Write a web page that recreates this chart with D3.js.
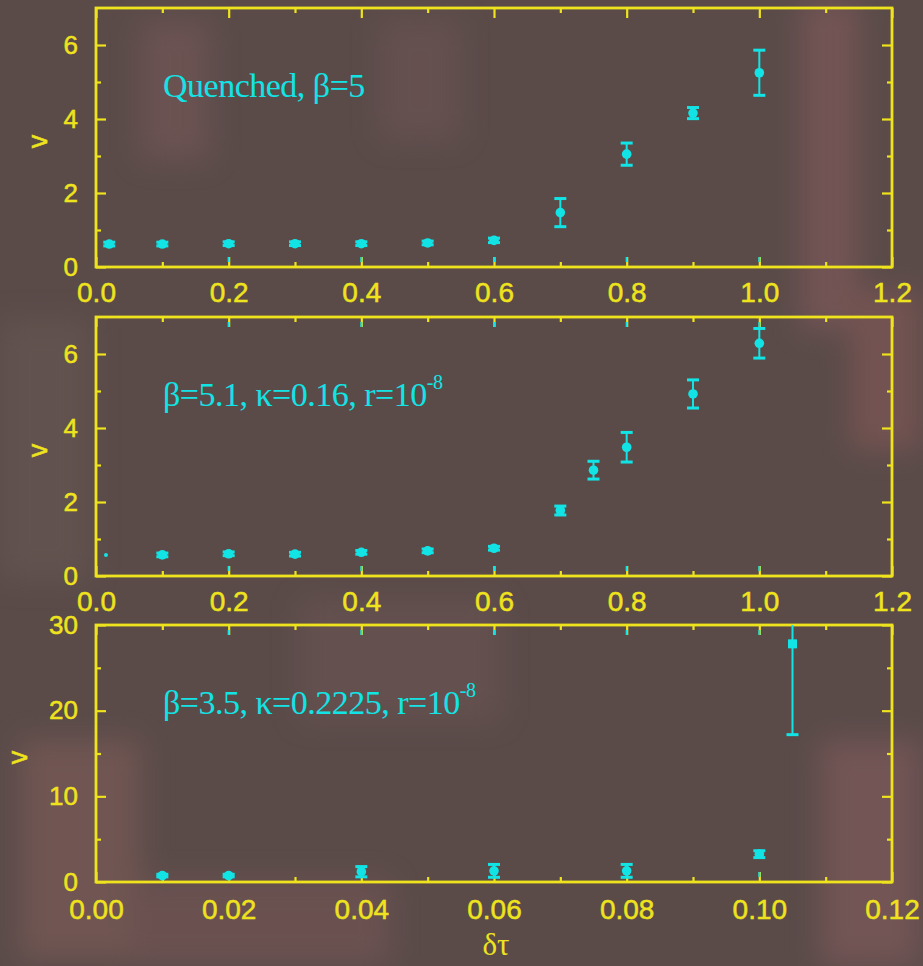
<!DOCTYPE html>
<html lang="en">
<head>
<meta charset="UTF-8">
<title>v vs dtau</title>
<script src="https://d3js.org/d3.v7.min.js"></script>
<style>
    body { margin: 0; background: #5a4b49; }
    svg { display: block; }
</style>
</head>
<body>
<script>

// --- data ---
// panel 1: quenched, beta = 5
const dt1  = [0.02, 0.1, 0.2, 0.3, 0.4, 0.5, 0.6, 0.7, 0.8, 0.9, 1.0];
const v1   = [0.62, 0.62, 0.63, 0.63, 0.63, 0.65, 0.72, 1.47, 3.05, 4.16, 5.25];
const err1 = [0.05, 0.05, 0.05, 0.05, 0.05, 0.05, 0.06, 0.38, 0.30, 0.15, 0.61];

// panel 2: beta = 5.1, kappa = 0.16
const dt2  = [0.015, 0.1, 0.2, 0.3, 0.4, 0.5, 0.6, 0.7, 0.75, 0.8, 0.9, 1.0];
const v2   = [0.57, 0.57, 0.60, 0.59, 0.64, 0.68, 0.75, 1.77, 2.86, 3.48, 4.92, 6.29];
const err2 = [0, 0.05, 0.05, 0.05, 0.05, 0.05, 0.05, 0.12, 0.24, 0.40, 0.38, 0.40];

// panel 3: beta = 3.5, kappa = 0.2225
const dt3  = [0.01, 0.02, 0.04, 0.06, 0.08, 0.10, 0.105];
const v3   = [0.75, 0.75, 1.2, 1.3, 1.3, 3.25, 27.8];
const err3 = [0.15, 0.15, 0.6, 0.75, 0.75, 0.4, 10.6];
const mark3 = ['c', 'c', 'c', 'c', 'c', 'c', 's'];

// axis ticks
const xMajorA = [0, 0.2, 0.4, 0.6, 0.8, 1.0, 1.2];
const xMinorA = [0.1, 0.3, 0.5, 0.7, 0.9, 1.1];
const yMajorA = [0, 2, 4, 6];
const yMinorA = [1, 3, 5];
const xMajorB = [0, 0.02, 0.04, 0.06, 0.08, 0.10, 0.12];
const xMinorB = [0.01, 0.03, 0.05, 0.07, 0.09, 0.11];
const yMajorB = [0, 10, 20, 30];
const yMinorB = [5, 15, 25];

const W = 923, H = 966;
const yellow = '#eee31c';
const cyan = '#12e4e6';
const left = 96, right = 892;

const svg = d3.select('body').append('svg')
    .attr('width', W)
    .attr('height', H);

// background, roughly the blotchy brown of the scan
svg.append('rect').attr('width', W).attr('height', H).attr('fill', '#5a4b49');
const defs = svg.append('defs');
defs.append('filter').attr('id', 'blur')
    .append('feGaussianBlur').attr('stdDeviation', 14);
const blotches = svg.append('g').attr('filter', 'url(#blur)').style('opacity', 0.5);
[[800, 0, 60, 330, '#8a5d5f'], [850, 290, 70, 160, '#8c5c5a'], [20, 740, 120, 220, '#86605c'],
 [820, 740, 100, 226, '#8a5e60'], [0, 320, 90, 260, '#6b5a55'], [300, 600, 200, 120, '#6e5654'],
 [140, 20, 70, 140, '#7a5a5a'], [380, 20, 80, 120, '#6f5655'], [130, 880, 260, 86, '#7a5858']]
    .forEach(b => blotches.append('rect')
        .attr('x', b[0]).attr('y', b[1]).attr('width', b[2]).attr('height', b[3]).attr('fill', b[4]));

const panels = [
    { top: 8, bottom: 267, xd: [0, 1.2], yd: [0, 7], xs: dt1, ys: v1, es: err1, marks: null,
      xMaj: xMajorA, xMin: xMinorA, yMaj: yMajorA, yMin: yMinorA, xf: d3.format('.1f'),
      topCyan: false, ylabX: 39, pad: 15,
      label: [['Quenched, β=5', null]] },
    { top: 317, bottom: 576, xd: [0, 1.2], yd: [0, 7], xs: dt2, ys: v2, es: err2, marks: null,
      xMaj: xMajorA, xMin: xMinorA, yMaj: yMajorA, yMin: yMinorA, xf: d3.format('.1f'),
      topCyan: true, ylabX: 39, pad: 15,
      label: [['β=5.1, κ=0.16, r=10', '-8']] },
    { top: 625, bottom: 882, xd: [0, 0.12], yd: [0, 30], xs: dt3, ys: v3, es: err3, marks: mark3,
      xMaj: xMajorB, xMin: xMinorB, yMaj: yMajorB, yMin: yMinorB, xf: d3.format('.2f'),
      topCyan: true, ylabX: 19, pad: 17,
      label: [['β=3.5, κ=0.2225, r=10', '-8']] }
];

panels.forEach((p, pi) => {
    const x = d3.scaleLinear().domain(p.xd).range([left, right]);
    const y = d3.scaleLinear().domain(p.yd).range([p.bottom, p.top]);
    const g = svg.append('g');

    const clipId = 'clip' + pi;
    defs.append('clipPath').attr('id', clipId)
        .append('rect')
        .attr('x', left).attr('y', p.top)
        .attr('width', right - left).attr('height', p.bottom - p.top);

    // axes: major + minor, ticks pointing inwards, mirrored on top/right
    const axes = [
        [d3.axisBottom(x).tickValues(p.xMaj).tickSize(-10).tickPadding(p.pad).tickFormat(p.xf), p.bottom, 0, 28],
        [d3.axisBottom(x).tickValues(p.xMin).tickSize(-5).tickFormat(''), p.bottom, 0, 28],
        [d3.axisTop(x).tickValues(p.xMaj).tickSize(-10).tickFormat(''), p.top, 0, 28],
        [d3.axisTop(x).tickValues(p.xMin).tickSize(-5).tickFormat(''), p.top, 0, 28],
        [d3.axisLeft(y).tickValues(p.yMaj).tickSize(-10).tickPadding(18).tickFormat(d3.format('d')), 0, left, 26],
        [d3.axisLeft(y).tickValues(p.yMin).tickSize(-5).tickFormat(''), 0, left, 26],
        [d3.axisRight(y).tickValues(p.yMaj).tickSize(-10).tickFormat(''), 0, right, 26],
        [d3.axisRight(y).tickValues(p.yMin).tickSize(-5).tickFormat(''), 0, right, 26]
    ];
    axes.forEach(([ax, ty, tx, fs]) => {
        const a = g.append('g')
            .attr('transform', `translate(${tx},${ty})`)
            .call(ax);
        a.select('.domain').remove();
        a.selectAll('line').attr('stroke', yellow).attr('stroke-width', 2.2);
        a.selectAll('text')
            .attr('fill', yellow)
            .attr('stroke', yellow)
            .attr('stroke-width', 0.5)
            .style('font-family', '"Liberation Sans", Arial, sans-serif')
            .style('font-size', fs + 'px');
    });

    // the major x ticks show a cyan tip in the scan
    const tipRows = p.topCyan ? [[p.bottom, -1], [p.top, 1]] : [[p.bottom, -1]];
    tipRows.forEach(([yy, s]) => {
        g.selectAll(null)
            .data(p.xMaj.slice(1, -1))
            .enter().append('line')
            .attr('x1', d => x(d)).attr('x2', d => x(d))
            .attr('y1', yy + s * 5).attr('y2', yy + s * 10)
            .attr('stroke', cyan).attr('stroke-width', 2);
    });

    // frame
    g.append('rect')
        .attr('x', left).attr('y', p.top)
        .attr('width', right - left).attr('height', p.bottom - p.top)
        .attr('fill', 'none')
        .attr('stroke', yellow)
        .attr('stroke-width', 2.8);

    // points with error bars
    const pts = p.xs.map((d, i) => ({ x: d, v: p.ys[i], e: p.es[i], m: p.marks ? p.marks[i] : 'c' }));
    const dg = g.append('g').attr('clip-path', `url(#${clipId})`);
    const withErr = pts.filter(d => d.e > 0);
    dg.selectAll('line.bar')
        .data(withErr)
        .enter().append('line')
        .attr('class', 'bar')
        .attr('x1', d => x(d.x)).attr('x2', d => x(d.x))
        .attr('y1', d => y(d.v - d.e)).attr('y2', d => y(d.v + d.e))
        .attr('stroke', cyan).attr('stroke-width', 2);
    [-1, 1].forEach(s => {
        dg.selectAll(null)
            .data(withErr)
            .enter().append('line')
            .attr('x1', d => x(d.x) - 6).attr('x2', d => x(d.x) + 6)
            .attr('y1', d => y(d.v + s * d.e)).attr('y2', d => y(d.v + s * d.e))
            .attr('stroke', cyan).attr('stroke-width', 3);
    });
    dg.selectAll('circle')
        .data(pts.filter(d => d.m === 'c'))
        .enter().append('circle')
        .attr('cx', d => x(d.x))
        .attr('cy', d => y(d.v))
        .attr('r', d => d.e > 0 ? 4.8 : 2)
        .attr('fill', cyan);
    dg.selectAll('rect.sq')
        .data(pts.filter(d => d.m === 's'))
        .enter().append('rect')
        .attr('class', 'sq')
        .attr('x', d => x(d.x) - 4.5).attr('y', d => y(d.v) - 4.5)
        .attr('width', 9).attr('height', 9)
        .attr('fill', cyan);

    // panel annotation
    const lab = g.append('text')
        .attr('x', 163)
        .attr('y', p.top + 89)
        .attr('fill', cyan)
        .style('font-family', '"Liberation Serif", "Times New Roman", serif')
        .style('font-size', '34px')
        .style('letter-spacing', '-0.5px');
    p.label.forEach(([main, sup]) => {
        lab.append('tspan').text(main);
        if (sup) {
            lab.append('tspan')
                .attr('dy', -17)
                .style('font-size', '20px')
                .text(sup);
        }
    });

    // y axis title
    g.append('text')
        .attr('transform', `translate(${p.ylabX + 8},${(p.top + p.bottom) / 2 + 4}) rotate(-90)`)
        .attr('text-anchor', 'middle')
        .attr('fill', yellow)
        .attr('stroke', yellow)
        .attr('stroke-width', 0.5)
        .style('font-family', '"Liberation Sans", Arial, sans-serif')
        .style('font-size', '27px')
        .text('v');
});

// x axis title
svg.append('text')
    .attr('x', 496)
    .attr('y', 955)
    .attr('text-anchor', 'middle')
    .attr('fill', yellow)
    .style('font-family', '"Liberation Serif", "Times New Roman", serif')
    .style('font-size', '31px')
    .text('δτ');

</script>
</body>
</html>
